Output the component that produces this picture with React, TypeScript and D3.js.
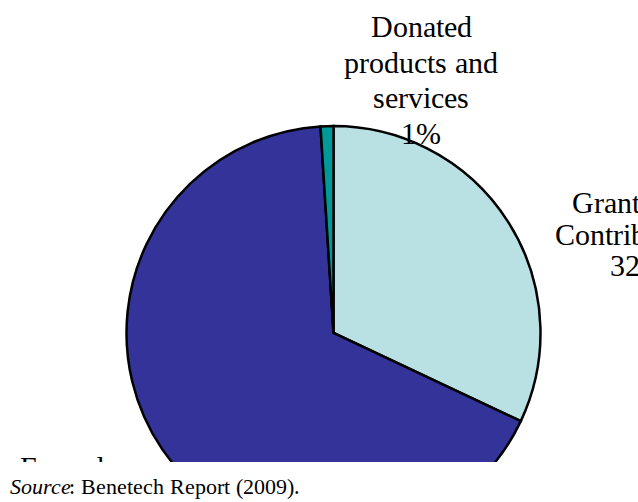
import * as d3 from 'd3'

// ─── Data ─────────────────────────────────────────────────────────────────────

const VALUES = [32, 67, 1] // Grants and Contributions, Earned revenue, Donated products and services
const COLORS = ['#B9E0E3', '#333399', '#009999']
const LABEL_LINES = [
  ['Grants and', 'Contributions', '32%'],
  ['Earned revenue', '67%'],
  ['Donated', 'products and', 'services', '1%'],
]

// ─── Layout ───────────────────────────────────────────────────────────────────

const W = 638
const H = 502
const CX = 333.5
const CY = 333
const R = 207
const CUT_Y = 462
const FONT = "ChartSerif, 'Liberation Serif', 'Times New Roman', serif"

// label anchor (centre x, first baseline y, line step)
const LABEL_POS = [
  { x: 637, y: 213, step: 31.5 },
  { x: 113, y: 478, step: 35 },
  { x: 421, y: 37, step: 35.5 },
]

const CSS = `
@font-face { font-family: 'ChartSerif'; src: local('Liberation Serif'), local('LiberationSerif'); font-style: normal; }
@font-face { font-family: 'ChartSerif'; src: local('Liberation Serif Italic'), local('LiberationSerif-Italic'); font-style: italic; }
body { margin: 0; }
.chart text { font-family: ${FONT}; }
`

export default function App() {
  const arcs = d3.pie<number>().sort(null).value((d) => d)(VALUES)
  const arc = d3.arc<d3.PieArcDatum<number>>().innerRadius(0).outerRadius(R)

  return (
    <>
      <style>{CSS}</style>
      <svg className="chart" width={W} height={H}
        style={{ display: 'block', background: '#fff' }}>
        <g transform={`translate(${CX},${CY})`}>
          {arcs.map((a, i) => (
            <path key={i} d={arc(a) ?? ''} fill={COLORS[i]} stroke="#000" strokeWidth={2.5} />
          ))}
        </g>
        {LABEL_LINES.map((lines, i) => {
          const p = LABEL_POS[i]
          return lines.map((ln, j) => (
            <text key={`${i}-${j}`} x={p.x} y={p.y + j * p.step} textAnchor="middle" fill="#000"
              fontSize={30}>{ln}</text>
          ))
        })}
        {/* the chart is cut off below this line */}
        <rect x={0} y={CUT_Y} width={W} height={H - CUT_Y} fill="#fff" />
        <text x={10} y={494} fill="#000" fontSize={22} fontStyle="italic">Source</text>
        <text x={69} y={494} fill="#000" fontSize={22}>: Benetech Report (2009).</text>
      </svg>
    </>
  )
}
